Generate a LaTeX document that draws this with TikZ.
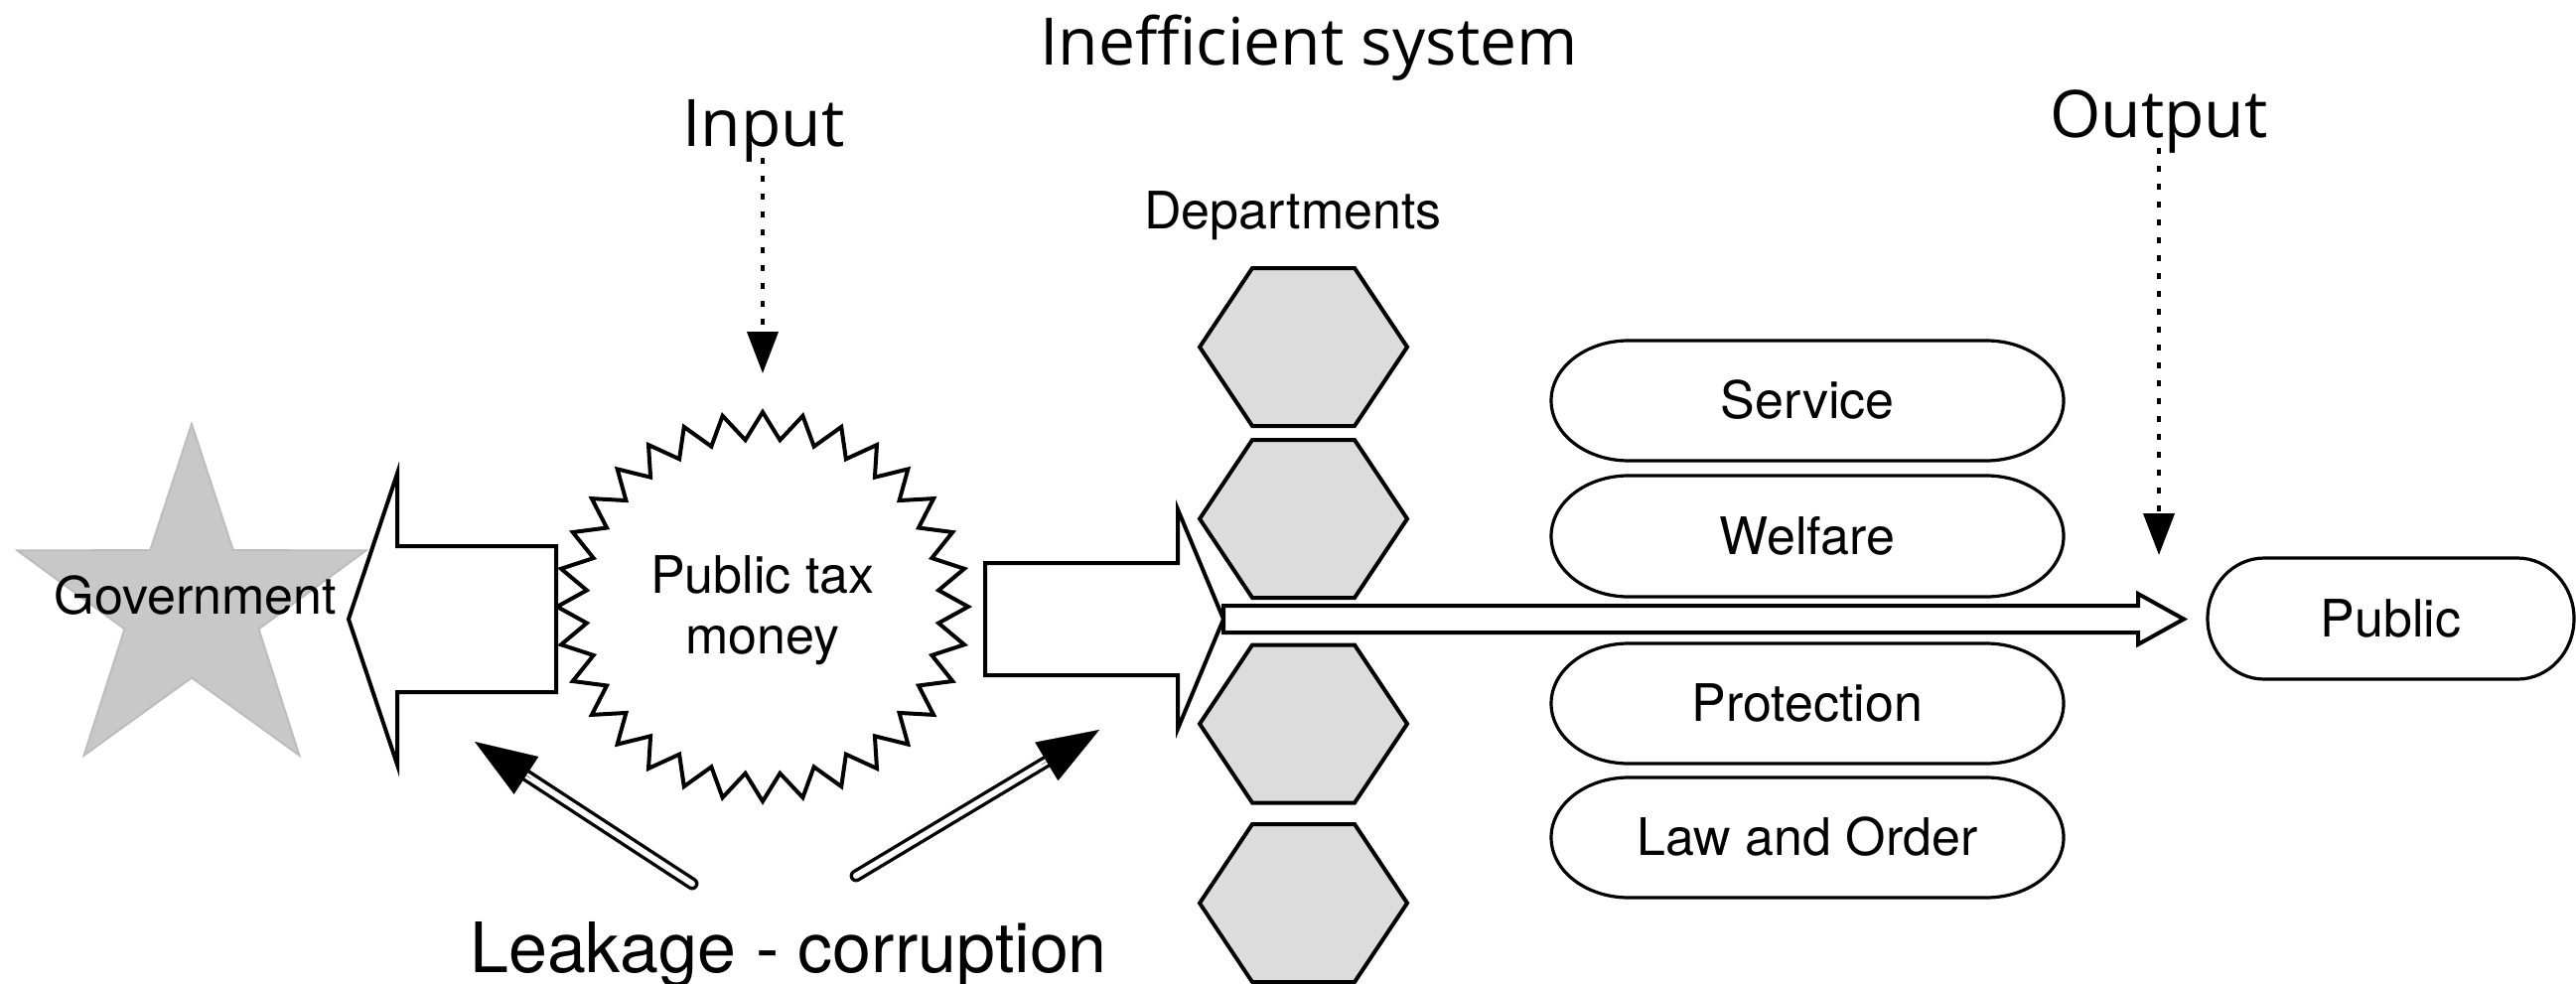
\documentclass[tikz,border=0pt]{standalone}
\usepackage{fontspec}
\setmainfont{TeX Gyre Heros}
\newfontfamily\osans{Open Sans}
\usetikzlibrary{arrows.meta,calc}
\definecolor{hexgray}{HTML}{DCDCDC}
\definecolor{stargray}{HTML}{C8C8C8}
\definecolor{staredge}{HTML}{BDBDBD}
\newcommand\pillbox[7]{%
  \draw[pillline] ({#2-#4+#6},{#3-#5}) -- ({#2+#4-#6},{#3-#5})
    arc[start angle=-90,end angle=90,x radius=#6,y radius=#5]
    -- ({#2-#4+#6},{#3+#5})
    arc[start angle=90,end angle=270,x radius=#6,y radius=#5] -- cycle;
  \node[lbl] (#1) at (#2,#3+18) {#7};}
\newcommand\hexa[3]{%
  \draw[hexline] ({#2-104.5},#3) -- ({#2-51.5},{#3-79.5}) -- ({#2+51.5},{#3-79.5})
    -- ({#2+104.5},#3) -- ({#2+51.5},{#3+79.5}) -- ({#2-51.5},{#3+79.5}) -- cycle;
  \coordinate (#1) at (#2,#3);}
\begin{document}
\begin{tikzpicture}[x=0.5pt,y=-0.5pt,
  lbl/.style={inner sep=0pt, anchor=base, font=\fontsize{26pt}{31pt}\selectfont},
  biglbl/.style={inner sep=0pt, anchor=base, font=\fontsize{35pt}{42pt}\selectfont},
  headlbl/.style={inner sep=0pt, anchor=base, font=\osans\fontsize{33pt}{40pt}\selectfont},
  pillline/.style={draw=black, fill=white, line width=1.6pt},
  hexline/.style={draw=black, fill=hexgray, line width=2pt, line join=miter},
  blockarrow/.style={draw=black, fill=white, line width=2pt, line join=miter},
  burstline/.style={draw=black, fill=white, line width=2pt, line join=miter},
  starline/.style={draw=staredge, fill=stargray, line width=1pt},
  dotarrow/.style={line width=2pt, dash pattern=on 3pt off 6pt, -{Triangle[length=21pt,width=15.5pt]}},
  shaftout/.style={line width=6.4pt, line cap=round},
  shaftin/.style={white, line width=3pt, line cap=round},
  leakhead/.style={line width=0.1pt, -{Triangle[length=31pt,width=22.5pt]}}
]
\useasboundingbox (0,0) rectangle (2594,990);

% titles
\node[headlbl] (title) at (1318,66) {Inefficient system};
\node[headlbl] (input) at (769,148) {Input};
\node[headlbl] (output) at (2174,139) {Output};
\node[lbl] (depts) at (1302,230) {Departments};
\node[biglbl] (leak) at (794,979) {Leakage - corruption};

% government star
\draw[starline] plot[variable=\k, samples at={0,...,9}]
  ({193+(127.75+56.75*cos(\k*180))*cos(90+\k*36)},
   {611.5-(127.75+56.75*cos(\k*180))*sin(90+\k*36)}) -- cycle;
\node[lbl] (gov) at (197,618) {Government};

% starburst
\draw[burstline] plot[variable=\k, samples at={0,...,63}]
  ({768+(192.5+14.5*cos(\k*180))*cos(\k*5.625)},
   {611-(182.3+13.7*cos(\k*180))*sin(\k*5.625)}) -- cycle;
\node[lbl] (tax) at (768,597) {Public tax};
\node[lbl] (taxb) at (768,658) {money};

% hexagons
\hexa{hexA}{1312.5}{349.5}
\hexa{hexB}{1312.5}{522.5}
\hexa{hexC}{1312.5}{729}
\hexa{hexD}{1312.5}{909.5}

% block arrow to government
\draw[blockarrow] (351,623.5) -- (400,477) -- (400,550) -- (560,550) -- (560,697)
  -- (400,697) -- (400,770) -- cycle;
% block arrow to departments
\draw[blockarrow] (992,567) -- (1186,567) -- (1186,513) -- (1232,623.5) -- (1186,734)
  -- (1186,680) -- (992,680) -- cycle;
% thin hollow arrow to public
\draw[blockarrow] (1232,610) -- (2153,610) -- (2153,598) -- (2199,623.5) -- (2153,649)
  -- (2153,637) -- (1232,637) -- cycle;

% outputs
\pillbox{service}{1820}{403.5}{258}{60.5}{78}{Service}
\pillbox{welfare}{1820}{540}{258}{61}{78}{Welfare}
\pillbox{protection}{1820}{708.5}{258}{60.5}{78}{Protection}
\pillbox{law}{1820}{843.5}{258}{60.5}{78}{Law and Order}
\pillbox{public}{2407.5}{623}{184.5}{61}{57}{Public}

% dotted arrows
\coordinate (inTop) at (768,159);
\coordinate (inTip) at (768,376);
\draw[dotarrow] (inTop) -- (inTip);
\coordinate (outTop) at (2174,149);
\coordinate (outTip) at (2174,559);
\draw[dotarrow] (outTop) -- (outTip);

% leakage arrows
\coordinate (LTail) at (697,890);
\coordinate (LTip) at (478,747);
\coordinate (RTail) at (862,882);
\coordinate (RTip) at (1107,735);
\draw[shaftout] (LTail) -- ($(LTip)!24pt!(LTail)$);
\draw[shaftin] (LTail) -- ($(LTip)!24pt!(LTail)$);
\draw[leakhead] ($(LTip)!34pt!(LTail)$) -- (LTip);
\draw[shaftout] (RTail) -- ($(RTip)!24pt!(RTail)$);
\draw[shaftin] (RTail) -- ($(RTip)!24pt!(RTail)$);
\draw[leakhead] ($(RTip)!34pt!(RTail)$) -- (RTip);
\end{tikzpicture}
\end{document}
